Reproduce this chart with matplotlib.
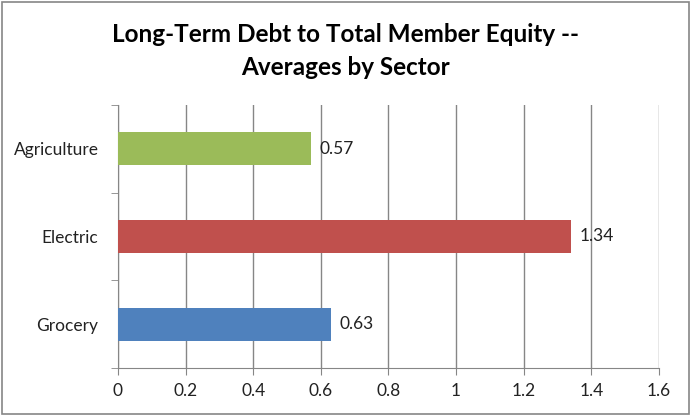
import matplotlib.pyplot as plt
from matplotlib.patches import Rectangle

# Sector averages, plotted bottom to top
sectors = ['Grocery', 'Electric', 'Agriculture']
ratios = [0.63, 1.34, 0.57]
bar_colors = ['#4F81BD', '#C0504D', '#9BBB59']
x_ticks = [0, 0.2, 0.4, 0.6, 0.8, 1.0, 1.2, 1.4, 1.6]
x_labels = ['0', '0.2', '0.4', '0.6', '0.8', '1', '1.2', '1.4', '1.6']

plt.rcParams['font.family'] = ['Lato', 'DejaVu Sans']

fig = plt.figure(figsize=(6.92, 4.16), dpi=100)
ax = fig.add_axes([0.1705, 0.1154, 0.7818, 0.6322])

ypos = range(len(sectors))
ax.barh(ypos, ratios, height=0.38, color=bar_colors, zorder=3)
for y, v in zip(ypos, ratios):
    ax.text(v + 0.025, y, f'{v:.2f}', va='center', ha='left',
            fontsize=12.5, color='#222222')

ax.set_xlim(0, 1.6)
ax.set_ylim(-0.5, 2.5)
ax.set_xticks(x_ticks)
ax.set_xticklabels(x_labels, fontsize=12.5, color='#222222')

# category labels centred, tick marks on category boundaries
ax.set_yticks(list(ypos))
ax.set_yticklabels(sectors, fontsize=12.5, color='#222222')
ax.tick_params(axis='y', length=0, pad=14)
ax.set_yticks([-0.5, 0.5, 1.5, 2.5], minor=True)
ax.tick_params(axis='y', which='minor', length=5, color='#868686')
ax.tick_params(axis='x', length=5, color='#868686', pad=6)

ax.grid(axis='x', color='#868686', linewidth=1, zorder=0)
for side in ['top', 'right']:
    ax.spines[side].set_visible(False)
for side in ['left', 'bottom']:
    ax.spines[side].set_color('#868686')

fig.text(0.5, 0.918, 'Long-Term Debt to Total Member Equity --',
         ha='center', va='center', fontsize=17.5, fontweight='bold')
fig.text(0.5, 0.838, 'Averages by Sector',
         ha='center', va='center', fontsize=17.5, fontweight='bold')

# outer frame of the chart
fig.patches.append(Rectangle((0.003, 0.005), 0.992, 0.99, transform=fig.transFigure,
                             fill=False, edgecolor='#868686', linewidth=1.2))

fig.savefig('out.png', dpi=100)
